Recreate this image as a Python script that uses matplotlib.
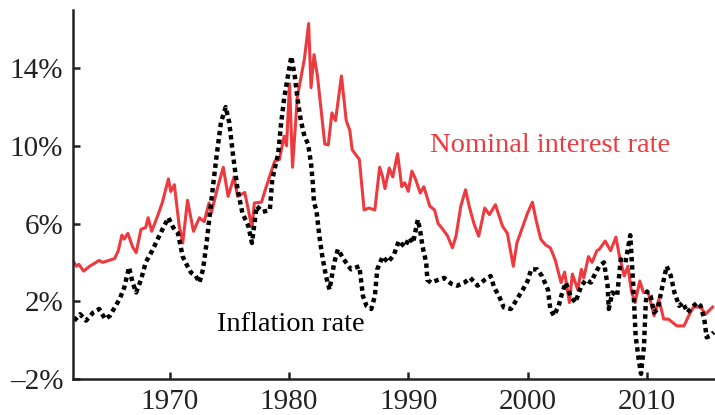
import matplotlib.pyplot as plt
from matplotlib.ticker import FixedLocator, FixedFormatter

# nominal interest rate (red)
rate_years = [1962.0, 1962.2, 1962.4, 1962.8, 1963.3, 1964.1, 1964.4, 1965.4, 1965.7, 1966.0,
              1966.2, 1966.5, 1966.9, 1967.2, 1967.6, 1968.0, 1968.2, 1968.5, 1969.0, 1969.4,
              1969.9, 1970.1, 1970.4, 1970.8, 1971.1, 1971.5, 1972.0, 1972.5, 1972.9, 1973.3,
              1973.5, 1974.0, 1974.5, 1974.9, 1975.4, 1975.7, 1976.3, 1976.9, 1977.1, 1977.7,
              1978.1, 1978.8, 1979.2, 1979.6, 1979.8, 1980.05, 1980.3, 1980.7, 1981.3, 1981.65,
              1981.85, 1982.1, 1982.4, 1982.7, 1983.0, 1983.3, 1983.6, 1983.9, 1984.4, 1984.8,
              1985.1, 1985.3, 1985.9, 1986.3, 1986.7, 1987.2, 1987.6, 1987.85, 1988.05, 1988.4,
              1988.7, 1989.1, 1989.45, 1989.7, 1990.0, 1990.3, 1990.6, 1991.0, 1991.3, 1991.8,
              1992.2, 1992.5, 1992.9, 1993.3, 1993.7, 1994.0, 1994.4, 1994.8, 1995.1, 1995.5,
              1995.9, 1996.4, 1996.8, 1997.3, 1997.9, 1998.3, 1998.8, 1999.1, 1999.6, 2000.0,
              2000.4, 2000.7, 2001.1, 2001.5, 2001.9, 2002.3, 2002.8, 2003.1, 2003.5, 2003.75,
              2004.2, 2004.5, 2004.7, 2005.1, 2005.4, 2005.8, 2006.0, 2006.5, 2006.95, 2007.4,
              2007.7, 2008.1, 2008.4, 2008.7, 2009.0, 2009.4, 2009.7, 2010.1, 2010.6, 2011.0,
              2011.4, 2011.8, 2012.5, 2013.1, 2013.5, 2013.9, 2014.5, 2014.9, 2015.5]
rate_values = [4.0, 3.8, 3.9, 3.55, 3.8, 4.1, 4.0, 4.2, 4.6, 5.4,
               5.2, 5.5, 4.8, 4.5, 5.7, 5.8, 6.3, 5.6, 6.4, 7.1,
               8.3, 7.65, 8.0, 5.9, 5.0, 7.2, 5.6, 6.3, 6.1, 7.06,
               6.55, 7.8, 8.9, 7.4, 8.4, 7.4, 7.6, 5.8, 7.06, 7.1,
               7.9, 9.2, 9.3, 10.5, 10.0, 13.2, 8.9, 12.5, 14.5, 16.3,
               13.0, 14.7, 13.55, 11.8, 10.1, 10.05, 11.7, 11.3, 13.6, 11.3,
               10.8, 9.8, 9.3, 6.7, 6.8, 6.7, 8.9, 8.4, 7.8, 8.86,
               8.4, 9.6, 7.9, 8.1, 7.66, 8.7, 8.3, 7.57, 7.9, 6.9,
               6.7, 6.0, 5.7, 5.35, 4.75, 5.35, 6.9, 7.74, 6.9, 6.0,
               5.35, 6.8, 6.46, 6.97, 5.86, 5.5, 3.8, 5.0, 5.86, 6.55,
               7.1, 6.2, 5.2, 4.9, 4.75, 4.15, 2.96, 3.5, 1.93, 3.4,
               2.6, 3.64, 3.2, 4.3, 4.0, 4.6, 4.67, 5.1, 4.6, 5.3,
               4.3, 3.3, 3.8, 2.5, 1.93, 3.04, 2.45, 2.45, 1.25, 2.1,
               1.08, 1.08, 0.73, 0.73, 1.25, 1.7, 1.7, 1.33, 1.7]

# inflation rate (black dotted)
infl_years = [1962.0, 1962.5, 1963.0, 1963.6, 1964.1, 1964.6, 1965.0, 1965.4, 1965.8, 1966.2,
              1966.6, 1966.9, 1967.2, 1967.6, 1968.0, 1968.6, 1969.0, 1969.4, 1969.9, 1970.3,
              1970.7, 1971.1, 1971.5, 1971.8, 1972.2, 1972.5, 1972.8, 1973.1, 1973.5, 1973.9,
              1974.3, 1974.7, 1975.0, 1975.3, 1975.7, 1976.1, 1976.6, 1976.9, 1977.3, 1977.8,
              1978.4, 1978.6, 1979.1, 1979.35, 1979.6, 1979.9, 1980.2, 1980.5, 1980.7, 1981.0,
              1981.3, 1981.6, 1981.85, 1982.0, 1982.1, 1982.3, 1982.55, 1982.8, 1983.1, 1983.4,
              1983.8, 1984.1, 1984.6, 1985.2, 1985.9, 1986.2, 1986.5, 1986.9, 1987.2, 1987.4,
              1987.85, 1988.3, 1988.8, 1989.2, 1989.7, 1990.1, 1990.4, 1990.8, 1991.0, 1991.2,
              1991.5, 1991.6, 1991.9, 1992.5, 1993.0, 1993.6, 1994.1, 1994.7, 1995.2, 1995.8,
              1996.4, 1996.9, 1997.2, 1997.6, 1998.0, 1998.6, 1999.1, 1999.6, 2000.0, 2000.3,
              2000.8, 2001.2, 2001.7, 2001.9, 2002.2, 2002.6, 2002.9, 2003.2, 2003.6, 2004.0,
              2004.5, 2004.9, 2005.3, 2005.7, 2006.0, 2006.4, 2006.7, 2006.8, 2007.1, 2007.5,
              2007.8, 2008.2, 2008.6, 2008.85, 2009.05, 2009.3, 2009.5, 2009.75, 2009.9, 2010.0,
              2010.3, 2010.6, 2010.9, 2011.3, 2011.65, 2012.0, 2012.3, 2012.7, 2013.0, 2013.4,
              2013.8, 2014.2, 2014.5, 2014.8, 2015.0, 2015.3, 2015.6]
infl_values = [1.0, 1.33, 1.0, 1.42, 1.6, 1.08, 1.25, 1.68, 2.1, 2.7,
               3.75, 2.96, 2.45, 3.1, 4.0, 4.67, 5.2, 5.7, 6.3, 5.8,
               5.5, 4.3, 3.8, 3.47, 3.3, 2.96, 3.64, 5.0, 7.2, 9.3,
               11.2, 12.0, 11.2, 9.6, 7.74, 6.55, 5.86, 5.0, 6.9, 6.6,
               6.7, 8.26, 9.6, 11.2, 12.45, 13.55, 14.6, 13.55, 12.5, 11.3,
               10.5, 10.1, 9.1, 8.1, 7.06, 6.7, 5.35, 4.3, 3.3, 2.6,
               4.0, 4.67, 4.15, 3.64, 3.8, 2.27, 1.76, 1.6, 2.27, 3.64,
               4.3, 4.0, 4.4, 5.1, 4.8, 5.27, 5.0, 6.2, 5.6, 4.8,
               4.0, 3.1, 2.96, 3.1, 3.2, 2.9, 2.8, 2.96, 3.2, 2.8,
               3.1, 3.3, 2.7, 2.27, 1.68, 1.6, 2.1, 2.6, 3.04, 3.64,
               3.64, 3.3, 2.6, 1.6, 1.25, 1.76, 2.45, 2.96, 2.27, 1.93,
               2.8, 3.1, 2.96, 3.47, 3.8, 4.0, 2.8, 1.6, 2.45, 2.27,
               4.15, 4.0, 5.4, 2.8, 0.22, -0.97, -1.74, -0.3, 1.93, 2.5,
               2.27, 1.42, 1.6, 2.8, 3.8, 3.3, 2.45, 1.76, 1.93, 1.42,
               1.7, 1.93, 1.76, 1.08, 0.14, 0.22, 0.4]

y_ticks = [-2, 2, 6, 10, 14]
y_labels = ["\u20132%", "2%", "6%", "10%", "14%"]
x_ticks = [1970, 1980, 1990, 2000, 2010]
x_labels = ["1970", "1980", "1990", "2000", "2010"]

RED = "#ee3a3f"
plt.rcParams["font.family"] = ["Liberation Serif", "DejaVu Serif"]

fig = plt.figure(figsize=(7.15, 4.15), dpi=100)
ax = fig.add_axes([0.102, 0.087, 0.898, 0.889])

ax.plot(rate_years, rate_values, color=RED, lw=2.2)
ax.plot(infl_years, infl_values, color="black", lw=3.2, linestyle=(0, (1, 0.85)))

ax.set_xlim(1961.9, 2015.7)
ax.set_ylim(-2, 17)

ax.yaxis.set_major_locator(FixedLocator(y_ticks))
ax.yaxis.set_major_formatter(FixedFormatter(y_labels))
ax.xaxis.set_major_locator(FixedLocator(x_ticks))
ax.xaxis.set_major_formatter(FixedFormatter(x_labels))

for s in ["top", "right"]:
    ax.spines[s].set_visible(False)
for s in ["left", "bottom"]:
    ax.spines[s].set_linewidth(1.8)
    ax.spines[s].set_color("#222222")

ax.tick_params(direction="in", length=5, width=1.8, color="#222222",
               labelsize=21, labelcolor="#222222")
ax.tick_params(axis="y", pad=7)
ax.tick_params(axis="x", pad=7)

ax.text(1991.8, 10.0, "Nominal interest rate", color=RED, fontsize=20.5,
        ha="left", va="center")
ax.text(1974.0, 0.8, "Inflation rate", color="black", fontsize=20.5,
        ha="left", va="center")

fig.savefig("out.png", dpi=100)
